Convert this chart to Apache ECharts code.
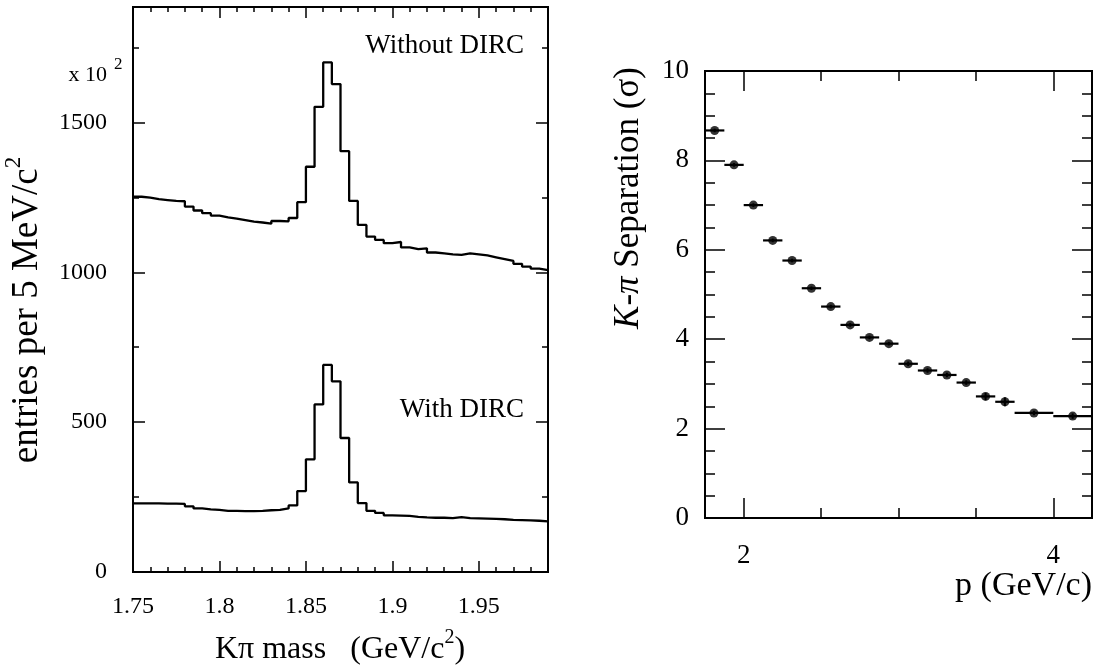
<!DOCTYPE html>
<html>
<head>
<meta charset="utf-8">
<script src="https://cdn.jsdelivr.net/npm/echarts@6/dist/echarts.min.js"></script>
<style>
  html, body { margin: 0; padding: 0; background: #fff; }
  #chart { width: 1096px; height: 668px; }
</style>
</head>
<body>
<div id="chart"></div>
<script>
// left panel: K-pi mass, 5 MeV bins starting at 1.75
const massBinStart = 1.75;
const massBinWidth = 0.005;
const withoutDirc = [1252, 1249, 1244, 1241, 1238, 1237, 1219, 1206, 1197, 1189, 1183, 1179,
  1174, 1169, 1166, 1162, 1171, 1170, 1181, 1234, 1352, 1552, 1700, 1628,
  1404, 1238, 1158, 1119, 1108, 1097, 1101, 1083, 1077, 1080, 1066, 1063,
  1060, 1058, 1063, 1060, 1056, 1050, 1044, 1038, 1028, 1019, 1012, 1007];
const withDirc = [229, 229, 229, 228, 228, 227, 219, 212, 209, 207, 204, 204,
  203, 203, 204, 206, 207, 212, 222, 270, 376, 559, 691, 636,
  447, 299, 230, 204, 197, 189, 188, 187, 184, 182, 181, 181,
  180, 183, 180, 179, 178, 177, 176, 174, 173, 172, 171, 169];
const massTicks = [1.75, 1.8, 1.85, 1.9, 1.95];
const massMinorTicks = [1.76, 1.77, 1.78, 1.79, 1.81, 1.82, 1.83, 1.84, 1.86, 1.87, 1.88, 1.89,
  1.91, 1.92, 1.93, 1.94, 1.96, 1.97, 1.98];
const entryTicks = [0, 500, 1000, 1500];
const entryMinorTicks = [250, 750, 1250, 1750];

// right panel: K-pi separation vs momentum
const pLow = [1.75, 1.875, 2.0, 2.125, 2.25, 2.375, 2.5, 2.625, 2.75, 2.875, 3.0, 3.125,
  3.25, 3.375, 3.5, 3.625, 3.75, 4.0];
const pHigh = [1.875, 2.0, 2.125, 2.25, 2.375, 2.5, 2.625, 2.75, 2.875, 3.0, 3.125, 3.25,
  3.375, 3.5, 3.625, 3.75, 4.0, 4.25];
const separation = [8.67, 7.90, 7.00, 6.21, 5.76, 5.14, 4.73, 4.32, 4.04, 3.90, 3.45, 3.30,
  3.20, 3.03, 2.72, 2.60, 2.35, 2.28];
const separationErr = [0.04, 0.04, 0.04, 0.04, 0.04, 0.04, 0.04, 0.04, 0.04, 0.04, 0.05, 0.05,
  0.05, 0.05, 0.08, 0.1, 0.05, 0.06];
const pTicks = [2, 4];
const pMinorTicks = [2.5, 3, 3.5];
const sepTicks = [0, 2, 4, 6, 8, 10];
const sepMinorTicks = [0.5, 1, 1.5, 2.5, 3, 3.5, 4.5, 5, 5.5, 6.5, 7, 7.5, 8.5, 9, 9.5];

const FONT = 'Liberation Serif';

const myChart = echarts.init(document.getElementById('chart'));

// histogram outline as step line through bin edges
const stepData = vals => vals.map((v, i) => [massBinStart + i * massBinWidth, v])
  .concat([[massBinStart + vals.length * massBinWidth, vals[vals.length - 1]]]);

const sepPoints = separation.map((s, i) => [(pLow[i] + pHigh[i]) / 2, s, pLow[i], pHigh[i], separationErr[i]]);

// one axis = one set of ticks (ECharts has a single tick length per axis)
function axis(gridIndex, position, min, max, ticks, len, labels, label) {
  return {
    type: 'value', gridIndex, position, min, max,
    axisLine: { show: false, onZero: false },
    splitLine: { show: false },
    axisTick: { show: true, inside: true, length: len, customValues: ticks,
      lineStyle: { color: '#000', width: 1.5 } },
    axisLabel: labels ? Object.assign({ show: true, customValues: labels, color: '#000', fontFamily: FONT,
      formatter: v => String(v) }, label)
      : { show: false }
  };
}

// superscript style for rich text
const sup = size => ({ fontSize: size, fontFamily: FONT, verticalAlign: 'top', lineHeight: size });

const options = {
  animation: false,
  backgroundColor: '#fff',
  grid: [
    { left: 133, top: 7, width: 415, height: 565, show: true, borderColor: '#000', borderWidth: 2, backgroundColor: 'transparent' },
    { left: 705, top: 71, width: 387, height: 447, show: true, borderColor: '#000', borderWidth: 2, backgroundColor: 'transparent' }
  ],
  xAxis: [
    axis(0, 'bottom', 1.75, 1.99, massTicks, 11, massTicks, { fontSize: 24, margin: 23 }),
    axis(0, 'bottom', 1.75, 1.99, massMinorTicks, 5),
    axis(0, 'top', 1.75, 1.99, massTicks, 11),
    axis(0, 'top', 1.75, 1.99, massMinorTicks, 5),
    axis(1, 'bottom', 1.75, 4.25, pTicks, 20, pTicks, { fontSize: 27, margin: 24 }),
    axis(1, 'bottom', 1.75, 4.25, pMinorTicks, 10),
    axis(1, 'top', 1.75, 4.25, pTicks, 20),
    axis(1, 'top', 1.75, 4.25, pMinorTicks, 10)
  ],
  yAxis: [
    axis(0, 'left', 0, 1885, entryTicks, 12, entryTicks, { fontSize: 24, margin: 26 }),
    axis(0, 'left', 0, 1885, entryMinorTicks, 6),
    axis(0, 'right', 0, 1885, entryTicks, 12),
    axis(0, 'right', 0, 1885, entryMinorTicks, 6),
    axis(1, 'left', 0, 10, sepTicks, 20, sepTicks, { fontSize: 27, margin: 16 }),
    axis(1, 'left', 0, 10, sepMinorTicks, 10),
    axis(1, 'right', 0, 10, sepTicks, 20),
    axis(1, 'right', 0, 10, sepMinorTicks, 10)
  ],
  series: [
    {
      name: 'Without DIRC', type: 'line', xAxisIndex: 0, yAxisIndex: 0,
      step: 'end', showSymbol: false, symbol: 'none',
      lineStyle: { color: '#000', width: 2.3 },
      data: stepData(withoutDirc)
    },
    {
      name: 'With DIRC', type: 'line', xAxisIndex: 0, yAxisIndex: 0,
      step: 'end', showSymbol: false, symbol: 'none',
      lineStyle: { color: '#000', width: 2.3 },
      data: stepData(withDirc)
    },
    {
      name: 'errors', type: 'custom', xAxisIndex: 4, yAxisIndex: 4,
      data: sepPoints,
      renderItem: (params, api) => {
        const y = api.value(1), e = api.value(4);
        const a = api.coord([api.value(2), y]);
        const b = api.coord([api.value(3), y]);
        const t = api.coord([api.value(0), y + e]);
        const d = api.coord([api.value(0), y - e]);
        return {
          type: 'group',
          children: [
            { type: 'line', shape: { x1: a[0], y1: a[1], x2: b[0], y2: b[1] }, style: { stroke: '#000', lineWidth: 2.2 } },
            { type: 'line', shape: { x1: t[0], y1: t[1], x2: d[0], y2: d[1] }, style: { stroke: '#000', lineWidth: 2 } }
          ]
        };
      }
    },
    {
      name: 'separation', type: 'scatter', xAxisIndex: 4, yAxisIndex: 4,
      symbol: 'circle', symbolSize: 9,
      itemStyle: { color: '#000' },
      data: sepPoints.map(p => [p[0], p[1]])
    }
  ],
  graphic: [
    { type: 'text', x: 524, y: 46, style: { text: 'Without DIRC', fontSize: 27, fontFamily: FONT, fill: '#000', align: 'right', verticalAlign: 'middle' } },
    { type: 'text', x: 524, y: 410, style: { text: 'With DIRC', fontSize: 27, fontFamily: FONT, fill: '#000', align: 'right', verticalAlign: 'middle' } },
    { type: 'text', x: 107, y: 75, style: { text: 'x 10', fontSize: 22, fontFamily: FONT, fill: '#000', align: 'right', verticalAlign: 'middle' } },
    { type: 'text', x: 114, y: 65, style: { text: '2', fontSize: 17, fontFamily: FONT, fill: '#000', align: 'left', verticalAlign: 'middle' } },
    { type: 'text', x: 27, y: 310, rotation: Math.PI / 2,
      style: { text: 'entries per 5 MeV/c{sup|2}', fontSize: 37, lineHeight: 50, fontFamily: FONT, fill: '#000', align: 'center', verticalAlign: 'middle',
        rich: { sup: sup(23) } } },
    { type: 'text', x: 340, y: 650, style: { text: 'Kπ mass   (GeV/c{sup|2})', fontSize: 32, lineHeight: 44, fontFamily: FONT, fill: '#000', align: 'center', verticalAlign: 'middle',
        rich: { sup: sup(20) } } },
    { type: 'text', x: 629, y: 198, rotation: Math.PI / 2,
      style: { text: '{i|K}-{i|π} Separation (σ)', fontSize: 35, fontFamily: FONT, fill: '#000', align: 'center', verticalAlign: 'middle',
        rich: { i: { fontStyle: 'italic', fontSize: 35, fontFamily: FONT } } } },
    { type: 'text', x: 1092, y: 586, style: { text: 'p (GeV/c)', fontSize: 34, fontFamily: FONT, fill: '#000', align: 'right', verticalAlign: 'middle' } }
  ]
};

myChart.setOption(options);
</script>
</body>
</html>
